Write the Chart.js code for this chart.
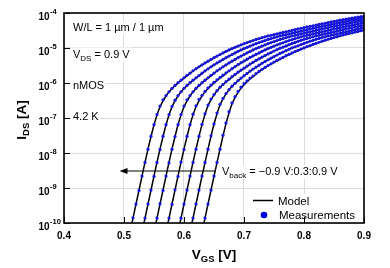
<!DOCTYPE html>
<html>
<head>
<meta charset="utf-8">
<script src="https://cdn.jsdelivr.net/npm/chart.js@4.4.0/dist/chart.umd.min.js"></script>
<style>
html, body { margin: 0; padding: 0; background: #fff; }
canvas { display: block; }
</style>
</head>
<body>
<canvas id="c" width="390" height="268" style="width:390px;height:268px"></canvas>
<script>
const N = null;

// gate voltage grids (V)
const vgsMeas = [
  0.500,0.505,0.510,0.515,0.520,0.525,0.530,0.535,0.540,0.545,
  0.550,0.555,0.560,0.565,0.570,0.575,0.580,0.585,0.590,0.595,
  0.600,0.605,0.610,0.615,0.620,0.625,0.630,0.635,0.640,0.645,
  0.650,0.655,0.660,0.665,0.670,0.675,0.680,0.685,0.690,0.695,
  0.700,0.705,0.710,0.715,0.720,0.725,0.730,0.735,0.740,0.745,
  0.750,0.755,0.760,0.765,0.770,0.775,0.780,0.785,0.790,0.795,
  0.800,0.805,0.810,0.815,0.820,0.825,0.830,0.835,0.840,0.845,
  0.850,0.855,0.860,0.865,0.870,0.875,0.880,0.885,0.890,0.895,
  0.900
];
const vgsModel = [
  0.50,0.51,0.52,0.53,0.54,0.55,0.56,0.57,0.58,0.59,
  0.60,0.61,0.62,0.63,0.64,0.65,0.66,0.67,0.68,0.69,
  0.70,0.71,0.72,0.73,0.74,0.75,0.76,0.77,0.78,0.79,
  0.80,0.81,0.82,0.83,0.84,0.85,0.86,0.87,0.88,0.89,
  0.90
];

// back-gate voltage of each curve (V), left to right
const vBack = [0.9, 0.6, 0.3, 0, -0.3, -0.6, -0.9];

// measured log10(IDS / A)
const meas0 = [N,N,N,
  -9.85,-9.46,-9.07,-8.66,-8.27,-7.89,-7.52,-7.19,-6.90,-6.66,
  -6.48,-6.36,-6.25,-6.15,-6.07,-5.99,-5.92,-5.85,-5.78,-5.715,
  -5.65,-5.59,-5.535,-5.48,-5.425,-5.375,-5.325,-5.275,-5.23,-5.185,
  -5.14,-5.095,-5.055,-5.015,-4.98,-4.945,-4.91,-4.875,-4.845,-4.815,
  -4.785,-4.755,-4.73,-4.705,-4.68,-4.655,-4.635,-4.615,-4.595,-4.575,
  -4.555,-4.535,-4.515,-4.495,-4.475,-4.455,-4.435,-4.415,-4.395,-4.38,
  -4.365,-4.345,-4.325,-4.31,-4.295,-4.275,-4.255,-4.24,-4.225,-4.205,
  -4.19,-4.175,-4.16,-4.145,-4.13,-4.115,-4.10,-4.085];
const meas1 = [N,N,N,N,N,N,N,
  -9.86,-9.46,-9.06,-8.67,-8.27,-7.90,-7.52,-7.19,-6.90,-6.67,
  -6.49,-6.36,-6.25,-6.15,-6.07,-5.99,-5.92,-5.85,-5.785,-5.72,
  -5.655,-5.595,-5.535,-5.48,-5.425,-5.375,-5.325,-5.275,-5.23,-5.185,
  -5.14,-5.095,-5.055,-5.015,-4.98,-4.945,-4.91,-4.875,-4.845,-4.815,
  -4.785,-4.755,-4.73,-4.705,-4.68,-4.655,-4.635,-4.615,-4.595,-4.575,
  -4.555,-4.535,-4.515,-4.495,-4.475,-4.455,-4.435,-4.415,-4.395,-4.38,
  -4.365,-4.345,-4.325,-4.31,-4.295,-4.275,-4.255,-4.24,-4.225,-4.205,
  -4.19,-4.175,-4.16,-4.145];
const meas2 = [N,N,N,N,N,N,N,N,N,N,N,
  -9.86,-9.45,-9.07,-8.66,-8.28,-7.89,-7.53,-7.19,-6.90,-6.66,
  -6.48,-6.36,-6.25,-6.15,-6.07,-5.99,-5.92,-5.85,-5.78,-5.715,
  -5.65,-5.595,-5.535,-5.48,-5.425,-5.375,-5.325,-5.275,-5.23,-5.185,
  -5.14,-5.10,-5.055,-5.015,-4.98,-4.945,-4.91,-4.875,-4.845,-4.815,
  -4.785,-4.755,-4.73,-4.705,-4.68,-4.655,-4.635,-4.615,-4.595,-4.575,
  -4.555,-4.535,-4.515,-4.495,-4.475,-4.455,-4.435,-4.415,-4.395,-4.38,
  -4.365,-4.345,-4.325,-4.31,-4.295,-4.275,-4.255,-4.24,-4.225,-4.205];
const meas3 = [N,N,N,N,N,N,N,N,N,N,N,N,N,N,N,
  -9.86,-9.47,-9.05,-8.67,-8.26,-7.90,-7.52,-7.19,-6.89,-6.65,
  -6.47,-6.35,-6.24,-6.14,-6.06,-5.98,-5.91,-5.84,-5.775,-5.71,
  -5.65,-5.59,-5.53,-5.475,-5.42,-5.37,-5.32,-5.27,-5.225,-5.18,
  -5.14,-5.095,-5.055,-5.015,-4.98,-4.945,-4.91,-4.88,-4.85,-4.815,
  -4.785,-4.76,-4.73,-4.705,-4.68,-4.66,-4.635,-4.615,-4.595,-4.575,
  -4.555,-4.535,-4.515,-4.495,-4.48,-4.455,-4.44,-4.42,-4.40,-4.38,
  -4.365,-4.35,-4.33,-4.31,-4.295,-4.28];
const meas4 = [N,N,N,N,N,N,N,N,N,N,N,N,N,N,N,N,N,N,N,
  -9.86,-9.46,-9.06,-8.66,-8.27,-7.89,-7.52,-7.18,-6.88,-6.63,
  -6.46,-6.33,-6.22,-6.12,-6.04,-5.96,-5.89,-5.82,-5.755,-5.69,
  -5.63,-5.575,-5.515,-5.46,-5.41,-5.355,-5.31,-5.26,-5.215,-5.17,
  -5.13,-5.085,-5.045,-5.005,-4.975,-4.94,-4.905,-4.87,-4.84,-4.81,
  -4.78,-4.75,-4.725,-4.70,-4.68,-4.655,-4.635,-4.615,-4.595,-4.575,
  -4.555,-4.535,-4.515,-4.495,-4.475,-4.455,-4.435,-4.415,-4.40,-4.38,
  -4.365,-4.345];
const meas5 = [N,N,N,N,N,N,N,N,N,N,N,N,N,N,N,N,N,N,N,N,N,N,N,
  -9.86,-9.46,-9.06,-8.66,-8.27,-7.89,-7.51,-7.17,-6.86,-6.61,
  -6.44,-6.30,-6.19,-6.09,-6.01,-5.93,-5.86,-5.79,-5.725,-5.66,
  -5.60,-5.545,-5.49,-5.435,-5.385,-5.335,-5.29,-5.245,-5.20,-5.155,
  -5.115,-5.075,-5.035,-4.995,-4.965,-4.935,-4.90,-4.865,-4.835,-4.805,
  -4.78,-4.75,-4.725,-4.70,-4.68,-4.655,-4.635,-4.615,-4.595,-4.575,
  -4.555,-4.535,-4.515,-4.495,-4.475,-4.455,-4.435,-4.415];
const meas6 = [N,N,N,N,N,N,N,N,N,N,N,N,N,N,N,N,N,N,N,N,N,N,N,N,N,N,N,
  -9.86,-9.46,-9.06,-8.66,-8.27,-7.89,-7.49,-7.14,-6.82,-6.57,
  -6.39,-6.24,-6.12,-6.02,-5.94,-5.86,-5.80,-5.73,-5.67,-5.61,
  -5.555,-5.50,-5.45,-5.40,-5.355,-5.31,-5.265,-5.22,-5.18,-5.14,
  -5.10,-5.065,-5.03,-4.995,-4.96,-4.93,-4.895,-4.865,-4.835,-4.805,
  -4.775,-4.75,-4.725,-4.70,-4.675,-4.65,-4.625,-4.605,-4.585,-4.565,
  -4.545,-4.525,-4.505,-4.485];

// model log10(IDS / A)
const model0 = [N,
  -10.26,-9.46,-8.66,-7.89,-7.20,-6.68,-6.37,-6.16,-6.00,-5.86,
  -5.725,-5.60,-5.485,-5.38,-5.28,-5.19,-5.10,-5.02,-4.95,-4.88,
  -4.82,-4.76,-4.71,-4.66,-4.62,-4.58,-4.54,-4.50,-4.46,-4.42,
  -4.385,-4.35,-4.315,-4.28,-4.245,-4.21,-4.18,-4.15,-4.12,-4.09];
const model1 = [N,N,N,
  -10.26,-9.46,-8.66,-7.89,-7.20,-6.68,-6.37,-6.16,-6.00,-5.86,
  -5.725,-5.60,-5.485,-5.38,-5.28,-5.19,-5.10,-5.02,-4.95,-4.88,
  -4.82,-4.76,-4.71,-4.66,-4.62,-4.58,-4.54,-4.50,-4.46,-4.42,
  -4.385,-4.35,-4.315,-4.28,-4.245,-4.21,-4.18,-4.15];
const model2 = [N,N,N,N,N,
  -10.26,-9.46,-8.66,-7.89,-7.20,-6.68,-6.37,-6.16,-6.00,-5.86,
  -5.725,-5.60,-5.485,-5.38,-5.28,-5.19,-5.10,-5.02,-4.95,-4.88,
  -4.82,-4.76,-4.71,-4.66,-4.62,-4.58,-4.54,-4.50,-4.46,-4.42,
  -4.385,-4.35,-4.315,-4.28,-4.245,-4.21];
const model3 = [N,N,N,N,N,N,N,
  -10.26,-9.46,-8.66,-7.89,-7.20,-6.68,-6.37,-6.16,-6.00,-5.86,
  -5.725,-5.60,-5.485,-5.38,-5.28,-5.19,-5.10,-5.02,-4.95,-4.88,
  -4.82,-4.76,-4.71,-4.66,-4.62,-4.58,-4.54,-4.50,-4.46,-4.42,
  -4.385,-4.35,-4.315,-4.28];
const model4 = [N,N,N,N,N,N,N,N,N,
  -10.26,-9.46,-8.66,-7.89,-7.19,-6.65,-6.34,-6.13,-5.97,-5.83,
  -5.70,-5.58,-5.465,-5.36,-5.265,-5.175,-5.09,-5.01,-4.945,-4.875,
  -4.815,-4.755,-4.705,-4.66,-4.62,-4.58,-4.54,-4.50,-4.46,-4.42,
  -4.385,-4.35];
const model5 = [N,N,N,N,N,N,N,N,N,N,N,
  -10.26,-9.46,-8.66,-7.89,-7.18,-6.63,-6.31,-6.10,-5.94,-5.80,
  -5.67,-5.55,-5.44,-5.34,-5.25,-5.16,-5.08,-5.00,-4.94,-4.87,
  -4.81,-4.755,-4.705,-4.66,-4.62,-4.58,-4.54,-4.50,-4.46,-4.42];
const model6 = [N,N,N,N,N,N,N,N,N,N,N,N,N,
  -10.26,-9.46,-8.66,-7.89,-7.16,-6.60,-6.27,-6.05,-5.89,-5.75,
  -5.62,-5.51,-5.41,-5.32,-5.23,-5.15,-5.07,-5.00,-4.935,-4.87,
  -4.81,-4.755,-4.705,-4.655,-4.61,-4.57,-4.53,-4.49];

const xTicks = [0.4, 0.5, 0.6, 0.7, 0.8, 0.9];
const yTicks = [1e-10, 1e-9, 1e-8, 1e-7, 1e-6, 1e-5, 1e-4];

const measAll = [meas0, meas1, meas2, meas3, meas4, meas5, meas6];
const modelAll = [model0, model1, model2, model3, model4, model5, model6];

const FONT = '"Liberation Sans", Arial, Helvetica, sans-serif';
const DOT = 'rgb(22,22,230)';

function toPoints(xs, logs) {
  return xs.map((x, i) => ({ x: x, y: logs[i] == null ? null : Math.pow(10, logs[i]) }));
}

const datasets = [];
measAll.forEach((m, k) => {
  datasets.push({
    label: 'Measurements Vback=' + vBack[k],
    data: toPoints(vgsMeas, m),
    showLine: false,
    pointRadius: 1.6,
    pointBorderWidth: 0,
    pointBackgroundColor: DOT,
    pointBorderColor: DOT,
    order: 0
  });
});
modelAll.forEach((m, k) => {
  datasets.push({
    label: 'Model Vback=' + vBack[k],
    data: toPoints(vgsModel, m),
    borderColor: '#000',
    borderWidth: 1.5,
    pointRadius: 0,
    cubicInterpolationMode: 'monotone',
    spanGaps: false,
    order: 1
  });
});

// draws a run of [text, font, dy] pieces, returns its width
function runs(ctx, parts, x, y, align) {
  let w = 0;
  parts.forEach(p => { ctx.font = p[1]; w += ctx.measureText(p[0]).width; });
  let cx = align === 'center' ? x - w / 2 : (align === 'right' ? x - w : x);
  ctx.textAlign = 'left';
  ctx.textBaseline = 'alphabetic';
  parts.forEach(p => {
    ctx.font = p[1];
    ctx.fillText(p[0], cx, y + (p[2] || 0));
    cx += ctx.measureText(p[0]).width;
  });
  return w;
}
function partsWidth(ctx, parts) {
  let w = 0;
  parts.forEach(p => { ctx.font = p[1]; w += ctx.measureText(p[0]).width; });
  return w;
}
function boxText(ctx, parts, x, y) {
  const w = partsWidth(ctx, parts);
  ctx.fillStyle = '#fff';
  ctx.fillRect(x - 2, y - 10, w + 4, 14);
  ctx.fillStyle = '#000';
  runs(ctx, parts, x, y, 'left');
}

const txt = '11px ' + FONT;
const sub = '8px ' + FONT;

const decor = {
  id: 'decor',
  afterDraw(chart) {
    const ctx = chart.ctx;
    const a = chart.chartArea;
    const xs = chart.scales.x, ys = chart.scales.y;
    ctx.save();

    // annotations
    boxText(ctx, [['W/L = 1 \u00b5m / 1 \u00b5m', txt]], 73, 31);
    boxText(ctx, [['V', txt], ['DS', sub, 3], [' = 0.9 V', txt]], 73, 57.5);
    boxText(ctx, [['nMOS', txt]], 73, 89);
    boxText(ctx, [['4.2 K', txt]], 73, 120);
    boxText(ctx, [['V', txt], ['back', sub, 3], [' = \u22120.9 V:0.3:0.9 V', txt]], 222, 175);

    // arrow
    ctx.strokeStyle = '#000';
    ctx.fillStyle = '#000';
    ctx.lineWidth = 1.2;
    ctx.beginPath();
    ctx.moveTo(216, 171);
    ctx.lineTo(125, 171);
    ctx.stroke();
    ctx.beginPath();
    ctx.moveTo(119.5, 171);
    ctx.lineTo(127.5, 168);
    ctx.lineTo(127.5, 174);
    ctx.closePath();
    ctx.fill();

    // legend
    ctx.fillStyle = '#fff';
    ctx.fillRect(250, 194, 110, 27);
    ctx.strokeStyle = '#000';
    ctx.lineWidth = 1.5;
    ctx.beginPath();
    ctx.moveTo(253, 200.5);
    ctx.lineTo(273, 200.5);
    ctx.stroke();
    ctx.fillStyle = '#0000dd';
    ctx.beginPath();
    ctx.arc(264, 215, 3.3, 0, Math.PI * 2);
    ctx.fill();
    ctx.fillStyle = '#000';
    runs(ctx, [['Model', '11.5px ' + FONT]], 278, 204.5, 'left');
    runs(ctx, [['Measurements', '11.5px ' + FONT]], 279, 218.5, 'left');

    // frame and inward ticks
    ctx.strokeStyle = '#000';
    ctx.lineWidth = 1.6;
    ctx.strokeRect(a.left, a.top, a.right - a.left, a.bottom - a.top);
    ctx.lineWidth = 1;
    ctx.beginPath();
    yTicks.forEach(v => {
      const py = Math.round(ys.getPixelForValue(v)) + 0.5;
      ctx.moveTo(a.left, py);
      ctx.lineTo(a.left + 6, py);
    });
    xTicks.forEach(v => {
      const px = Math.round(xs.getPixelForValue(v)) + 0.5;
      ctx.moveTo(px, a.bottom);
      ctx.lineTo(px, a.bottom - 6);
    });
    ctx.stroke();

    // tick labels
    ctx.fillStyle = '#000';
    yTicks.forEach(v => {
      const py = ys.getPixelForValue(v);
      const e = Math.round(Math.log10(v));
      ctx.font = 'bold 10px ' + FONT;
      ctx.textAlign = 'right';
      ctx.textBaseline = 'alphabetic';
      ctx.fillText('10', 49.5, py + 6.5);
      ctx.font = 'bold 7.5px ' + FONT;
      ctx.textAlign = 'left';
      ctx.fillText(String(e), 50, py + 0.5);
    });
    xTicks.forEach(v => {
      ctx.font = 'bold 10px ' + FONT;
      ctx.textAlign = 'center';
      ctx.textBaseline = 'alphabetic';
      ctx.fillText(v.toFixed(1), xs.getPixelForValue(v), 239);
    });

    // axis titles
    const big = 'bold 13.5px ' + FONT, small = 'bold 9.5px ' + FONT;
    runs(ctx, [['V', big], ['GS', small, 3], [' [V]', big]], (a.left + a.right) / 2, 258.5, 'center');
    ctx.translate(25.5, 120);
    ctx.rotate(-Math.PI / 2);
    runs(ctx, [['I', big], ['DS', small, 3], [' [A]', big]], 0, 0, 'center');

    ctx.restore();
  }
};

new Chart(document.getElementById('c').getContext('2d'), {
  type: 'line',
  data: { datasets: datasets },
  options: {
    responsive: false,
    devicePixelRatio: 1,
    animation: false,
    parsing: true,
    layout: { padding: { left: 0, right: 26, top: 13, bottom: 0 } },
    plugins: { legend: { display: false }, tooltip: { enabled: false } },
    scales: {
      x: {
        type: 'linear',
        min: 0.4,
        max: 0.9,
        afterBuildTicks: s => { s.ticks = xTicks.map(v => ({ value: v })); },
        afterFit: s => { s.height = 45; },
        ticks: { display: false },
        border: { display: false },
        grid: { color: '#dcdcdc', lineWidth: 1, drawTicks: false }
      },
      y: {
        type: 'logarithmic',
        min: 1e-10,
        max: 1e-4,
        afterBuildTicks: s => { s.ticks = yTicks.map(v => ({ value: v })); },
        afterFit: s => { s.width = 64; },
        ticks: { display: false },
        border: { display: false },
        grid: { color: '#dcdcdc', lineWidth: 1, drawTicks: false }
      }
    }
  },
  plugins: [decor]
});
</script>
</body>
</html>
